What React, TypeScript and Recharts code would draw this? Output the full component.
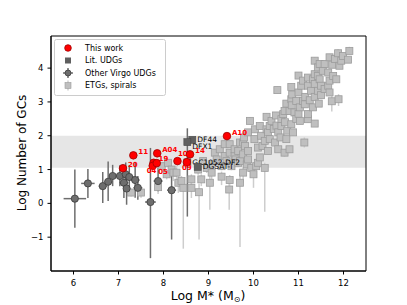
import { ScatterChart, Scatter, XAxis, YAxis, ErrorBar, ReferenceArea, Legend, Label } from 'recharts'

const FONT = 'DejaVu Sans'

const xTicks = [6, 7, 8, 9, 10, 11, 12]
const yTicks = [-1, 0, 1, 2, 3, 4]
const xDomain = [5.5, 12.5]
const yDomain = [-2, 4.95]
const band = [1.05, 2]

// this work (red)
const thisWorkNames = ['A10', '11', '20', 'A04', '19', '04', '05', '10', '14', '09']
const thisWorkMass = [9.41, 7.33, 7.1, 7.86, 7.78, 7.76, 7.85, 8.31, 8.59, 8.52]
const thisWorkGC = [1.99, 1.42, 1.04, 1.48, 1.2, 1.11, 1.19, 1.25, 1.45, 1.22]

// literature UDGs
const litNames = ['DF44', 'DFX1', 'GC1052-DF2', 'DGSAT-I']
const litMass = [8.64, 8.53, 8.53, 8.76]
const litGC = [1.88, 1.81, 1.21, 1.08]
const litErrLow = [0, 2.2, 0, 0]
const litErrHigh = [0, 0.41, 0, 0]

// other Virgo UDGs
const virgoMass = [6.03, 6.32, 6.65, 6.77, 6.87, 7.03, 7.16, 7.24, 7.12, 7.18, 7.37, 7.43, 7.71, 7.88, 8.18]
const virgoGC = [0.14, 0.59, 0.51, 0.64, 0.81, 0.81, 0.86, 0.78, 0.61, 0.44, 0.69, 0.46, 0.04, 0.66, 0.39]
const virgoMassErr = [0.25, 0.15, 0.09, 0.08, 0.08, 0.08, 0.07, 0.1, 0.1, 0.08, 0.1, 0.1, 0.12, 0.1, 0.1]
const virgoErrLow = [0.86, 0.43, 0.5, 0.57, 0.3, 0.3, 0.35, 0.35, 0.45, 0.48, 0.52, 0.35, 1.66, 0.3, 1.46]
const virgoErrHigh = [0.86, 0.43, 0.42, 0.6, 0.33, 0.32, 0.35, 0.35, 0.45, 0.45, 0.52, 0.35, 1.6, 0.4, 0.42]

// ETGs, spirals: [log M*, log N_GC, err down, err up]
const etgs: [number, number, number, number][] = [
    [7.28, 0.32, 0.12, 0.12], [7.5, 0.32, 0.15, 0.12], [7.88, 0.48, 0.2, 0.15], [8.07, 0.86, 0.15, 0.12],
    [7.96, 1.1, 0.12, 0.1], [8.1, 1.2, 0.12, 0.1], [8.18, 1.0, 0.2, 0.12], [8.22, 0.91, 0.25, 0.15],
    [8.29, 0.91, 0.3, 0.2], [8.33, 0.61, 0.3, 0.2], [8.4, 0.66, 0.25, 0.15], [8.44, 0.46, 1.8, 0.25],
    [8.62, 0.46, 0.3, 0.2], [8.62, 0.71, 0.2, 0.15], [8.84, 0.71, 0.2, 0.15], [8.79, 0.33, 1.4, 0.25],
    [8.77, 1.0, 0.15, 0.1], [8.88, 1.25, 0.12, 0.1], [8.96, 1.05, 0.15, 0.1], [9.03, 0.61, 0.8, 0.2],
    [9.07, 0.91, 0.2, 0.15], [9.07, 1.16, 0.12, 0.1], [9.14, 1.5, 0.1, 0.1], [9.18, 1.3, 0.12, 0.1],
    [9.25, 1.6, 0.1, 0.1], [9.29, 1.1, 0.12, 0.1], [9.29, 0.79, 0.25, 0.15], [9.36, 1.4, 0.1, 0.1],
    [9.36, 1.75, 0.1, 0.1], [9.4, 1.25, 0.12, 0.1], [9.46, 0.41, 0.6, 0.2], [9.47, 0.69, 0.25, 0.15],
    [9.47, 1.5, 0.1, 0.1], [9.47, 1.75, 0.1, 0.1], [9.51, 1.1, 0.12, 0.1], [9.58, 1.4, 0.1, 0.1],
    [9.58, 1.6, 0.1, 0.1], [9.6, 1.3, 0.1, 0.1], [9.66, 1.2, 0.12, 0.1], [9.66, 1.55, 0.1, 0.1],
    [9.7, 0.61, 1.9, 0.25], [9.7, 1.25, 0.12, 0.1], [9.7, 1.8, 0.1, 0.1], [9.77, 0.91, 0.3, 0.15],
    [9.77, 1.45, 0.1, 0.1], [9.77, 1.8, 0.1, 0.1], [9.79, 1.95, 0.1, 0.1], [9.81, 1.7, 0.1, 0.1],
    [9.85, 1.15, 0.12, 0.1], [9.88, 1.3, 0.1, 0.1], [9.88, 1.55, 0.1, 0.1], [9.88, 2.1, 0.1, 0.1],
    [9.92, 2.44, 0.1, 0.1], [9.95, 1.05, 0.15, 0.1], [10.0, 0.86, 0.4, 0.15], [10.02, 1.9, 0.1, 0.1],
    [10.03, 2.19, 0.1, 0.1], [10.06, 1.1, 0.2, 0.1], [10.1, 1.65, 0.1, 0.1], [10.1, 1.2, 0.12, 0.1],
    [10.14, 1.36, 0.1, 0.1], [10.14, 2.29, 0.1, 0.1], [10.17, 2.0, 0.1, 0.1], [10.2, 1.7, 0.1, 0.1],
    [10.25, 1.05, 1.3, 0.15], [10.25, 1.85, 0.1, 0.1], [10.29, 2.19, 0.1, 0.1], [10.29, 2.56, 0.1, 0.1],
    [10.32, 1.55, 0.1, 0.1], [10.32, 2.1, 0.1, 0.1], [10.36, 1.9, 0.1, 0.1], [10.36, 2.29, 0.1, 0.1],
    [10.4, 2.44, 0.1, 0.1], [10.45, 2.2, 0.1, 0.1], [10.48, 1.8, 0.1, 0.1], [10.5, 2.6, 0.1, 0.1],
    [10.51, 2.3, 0.1, 0.1], [10.53, 3.35, 0.1, 0.1], [10.55, 2.1, 0.1, 0.1], [10.55, 1.6, 0.1, 0.1],
    [10.6, 1.95, 0.1, 0.1], [10.62, 2.49, 0.1, 0.1], [10.62, 2.29, 0.1, 0.1], [10.66, 2.64, 0.1, 0.1],
    [10.69, 1.5, 0.12, 0.1], [10.69, 2.73, 0.1, 0.1], [10.7, 2.4, 0.1, 0.1], [10.73, 1.9, 0.1, 0.1],
    [10.73, 2.95, 0.1, 0.1], [10.75, 2.15, 0.1, 0.1], [10.8, 1.6, 0.12, 0.1], [10.8, 2.73, 0.1, 0.1],
    [10.84, 2.34, 0.1, 0.1], [10.84, 3.08, 0.1, 0.1], [10.86, 3.22, 0.1, 0.1], [10.84, 3.44, 0.1, 0.1],
    [10.85, 2.9, 0.1, 0.1], [10.88, 2.1, 0.1, 0.1], [10.91, 2.69, 0.1, 0.1], [10.95, 2.5, 0.1, 0.1],
    [10.95, 3.03, 0.1, 0.1], [11.0, 3.28, 0.1, 0.1], [11.0, 3.78, 0.1, 0.1], [11.0, 2.65, 0.1, 0.1],
    [11.03, 2.44, 0.1, 0.1], [11.03, 2.84, 0.1, 0.1], [11.06, 3.48, 0.1, 0.1], [11.1, 3.03, 0.1, 0.1],
    [11.1, 3.63, 0.1, 0.1], [11.13, 1.8, 0.15, 0.15], [11.14, 2.93, 0.1, 0.1], [11.15, 3.15, 0.1, 0.1],
    [11.21, 2.49, 0.1, 0.1], [11.21, 2.64, 0.1, 0.1], [11.21, 3.48, 0.1, 0.1], [11.21, 3.72, 0.1, 0.1],
    [11.25, 3.05, 0.1, 0.1], [11.28, 3.33, 0.1, 0.1], [11.32, 2.84, 0.1, 0.1], [11.32, 3.67, 0.1, 0.1],
    [11.36, 2.36, 0.1, 0.1], [11.36, 3.15, 0.1, 0.1], [11.36, 3.53, 0.1, 0.1], [11.36, 3.82, 0.1, 0.1],
    [11.36, 4.22, 0.1, 0.1], [11.43, 3.33, 0.1, 0.1], [11.43, 3.77, 0.1, 0.1], [11.43, 4.02, 0.1, 0.1],
    [11.45, 2.95, 0.1, 0.1], [11.47, 3.67, 0.1, 0.1], [11.47, 4.12, 0.1, 0.1], [11.5, 3.48, 0.1, 0.1],
    [11.5, 3.2, 0.1, 0.1], [11.54, 3.92, 0.1, 0.1], [11.58, 3.38, 0.1, 0.1], [11.58, 4.12, 0.1, 0.1],
    [11.66, 3.48, 0.1, 0.1], [11.66, 3.87, 0.1, 0.1], [11.69, 3.28, 0.1, 0.1], [11.69, 3.63, 0.1, 0.1],
    [11.69, 4.32, 0.1, 0.1], [11.74, 3.02, 0.3, 0.15], [11.75, 4.1, 0.1, 0.1], [11.77, 3.77, 0.1, 0.1],
    [11.81, 4.27, 0.1, 0.1], [11.84, 3.67, 0.1, 0.1], [11.88, 4.44, 0.1, 0.12], [11.89, 3.08, 0.2, 0.15],
    [11.91, 4.07, 0.1, 0.1], [11.95, 4.22, 0.1, 0.1], [11.99, 4.36, 0.1, 0.1], [12.1, 4.25, 0.1, 0.1],
    [12.13, 4.51, 0.1, 0.12],
]

// label offsets in px (text anchor relative to the marker)
const redLabelOffset: Record<string, [number, number]> = {
    A10: [5, -3.5], '11': [5, -3.5], '20': [5, -3.5], A04: [5, -3.5], '19': [5, -3.5],
    '04': [-6, 5.5], '05': [1.5, 8.5], '10': [0.5, -7], '14': [5, -3], '09': [-5, 5.5],
}
const litLabelOffset: Record<string, [number, number]> = {
    DF44: [5, 0], DFX1: [5, 4], 'GC1052-DF2': [5, 0], 'DGSAT-I': [5, 0],
}

const redData = thisWorkNames.map((name, i) => ({ name, x: thisWorkMass[i], y: thisWorkGC[i] }))
const litData = litNames.map((name, i) => ({ name, x: litMass[i], y: litGC[i], yErr: [litErrLow[i], litErrHigh[i]] }))
const virgoData = virgoMass.map((x, i) => ({ x, y: virgoGC[i], xErr: virgoMassErr[i], yErr: [virgoErrLow[i], virgoErrHigh[i]] }))
const etgData = etgs.map(([x, y, lo, hi]) => ({ x, y, yErr: [lo, hi] }))

// error bars are drawn by a marker-less series so they sit beneath the symbols
const NoMarker = () => null

function EtgSquare(props: any) {
    const { cx, cy } = props
    if (cx == null || cy == null) return null
    return <rect x={cx - 3.5} y={cy - 3.5} width={7} height={7} fill="#bfbfbf" stroke="#9c9c9c" strokeWidth={0.8} />
}

function VirgoDot(props: any) {
    const { cx, cy } = props
    if (cx == null || cy == null) return null
    return <circle cx={cx} cy={cy} r={3.6} fill="#6e6e6e" stroke="#3c3c3c" strokeWidth={0.8} />
}

function LitSquare(props: any) {
    const { cx, cy, payload } = props
    if (cx == null || cy == null) return null
    const [dx, dy] = litLabelOffset[payload.name] ?? [5, 0]
    return (
        <g>
            <rect x={cx - 3.5} y={cy - 3.5} width={7} height={7} fill="#5f5f5f" stroke="#4a4a4a" strokeWidth={0.6} />
            <text x={cx + dx} y={cy + dy} fontSize={7.5} fontFamily={FONT} fill="#000" dominantBaseline="central">{payload.name}</text>
        </g>
    )
}

function RedDot(props: any) {
    const { cx, cy, payload } = props
    if (cx == null || cy == null) return null
    const [dx, dy] = redLabelOffset[payload.name] ?? [5, -3.5]
    return (
        <g>
            <circle cx={cx} cy={cy} r={3.8} fill="#ff0000" stroke="#a00000" strokeWidth={0.8} />
            <text x={cx + dx} y={cy + dy} fontSize={7} fontWeight="bold" fontFamily={FONT} fill="#ff0000" dominantBaseline="central">{payload.name}</text>
        </g>
    )
}

function LegendBox() {
    const rows = [9, 21.5, 34, 46.5]
    const tx = 31
    const mx = 14
    return (
        <svg width={112} height={57} style={{ display: 'block' }}>
            <rect x={0.5} y={0.5} width={111} height={56} rx={2} fill="#fff" fillOpacity={0.85} stroke="#cccccc" />
            <circle cx={mx} cy={rows[0]} r={3.3} fill="#ff0000" stroke="#a00000" strokeWidth={0.8} />
            <rect x={mx - 3} y={rows[1] - 3} width={6} height={6} fill="#5f5f5f" />
            <line x1={mx - 5} x2={mx + 5} y1={rows[2]} y2={rows[2]} stroke="#6e6e6e" strokeWidth={1.5} />
            <line x1={mx} x2={mx} y1={rows[2] - 5} y2={rows[2] + 5} stroke="#6e6e6e" strokeWidth={1.5} />
            <circle cx={mx} cy={rows[2]} r={3} fill="#6e6e6e" stroke="#3c3c3c" strokeWidth={0.8} />
            <line x1={mx} x2={mx} y1={rows[3] - 5} y2={rows[3] + 5} stroke="#cfcfcf" strokeWidth={1.5} />
            <rect x={mx - 3} y={rows[3] - 3} width={6} height={6} fill="#bfbfbf" stroke="#9c9c9c" strokeWidth={0.6} />
            {['This work', 'Lit. UDGs', 'Other Virgo UDGs', 'ETGs, spirals'].map((t, i) => (
                <text key={t} x={tx} y={rows[i]} fontSize={8} fontFamily={FONT} fill="#000" dominantBaseline="central">{t}</text>
            ))}
        </svg>
    )
}

const fmt = (v: number) => (v < 0 ? '\u2212' + Math.abs(v) : String(v))

export default function App() {
    return (
        <div style={{ position: 'absolute', left: 0, top: 0, background: '#fff' }}>
            <ScatterChart width={407} height={305} margin={{ top: 36, right: 41, bottom: 0, left: 0 }}>
                <XAxis
                    type="number"
                    dataKey="x"
                    domain={xDomain}
                    ticks={xTicks}
                    allowDataOverflow
                    height={34}
                    tickSize={3.5}
                    tickMargin={5}
                    stroke="#000"
                    tick={{ fontSize: 8.5, fontFamily: FONT, fill: '#000' }}
                >
                    <Label
                        content={() => (
                            <text x={208} y={300} textAnchor="middle" fontSize={12.5} fontFamily={FONT} fill="#000">
                                Log M* (M<tspan fontSize={8} dy={2}>⊙</tspan><tspan dy={-2}>)</tspan>
                            </text>
                        )}
                    />
                </XAxis>
                <YAxis
                    type="number"
                    dataKey="y"
                    domain={yDomain}
                    ticks={yTicks}
                    allowDataOverflow
                    width={51}
                    tickSize={3.5}
                    tickMargin={4}
                    stroke="#000"
                    tickFormatter={fmt}
                    tick={{ fontSize: 8.5, fontFamily: FONT, fill: '#000' }}
                >
                    <Label
                        content={() => (
                            <text transform="translate(26,153) rotate(-90)" textAnchor="middle" fontSize={12} fontFamily={FONT} fill="#000">
                                Log Number of GCs
                            </text>
                        )}
                    />
                </YAxis>
                <ReferenceArea x1={xDomain[0]} x2={xDomain[1]} y1={band[0]} y2={band[1]} fill="#e6e6e6" fillOpacity={1} stroke="none" />
                <Scatter data={etgData} shape={NoMarker} isAnimationActive={false} legendType="none">
                    <ErrorBar dataKey="yErr" direction="y" width={0} stroke="#cdcdcd" strokeWidth={1.5} isAnimationActive={false} />
                </Scatter>
                <Scatter data={etgData} shape={EtgSquare} isAnimationActive={false} />
                <Scatter data={virgoData} shape={NoMarker} isAnimationActive={false} legendType="none">
                    <ErrorBar dataKey="yErr" direction="y" width={0} stroke="#6e6e6e" strokeWidth={1.5} isAnimationActive={false} />
                    <ErrorBar dataKey="xErr" direction="x" width={0} stroke="#6e6e6e" strokeWidth={1.5} isAnimationActive={false} />
                </Scatter>
                <Scatter data={virgoData} shape={VirgoDot} isAnimationActive={false} />
                <Scatter data={litData} shape={NoMarker} isAnimationActive={false} legendType="none">
                    <ErrorBar dataKey="yErr" direction="y" width={0} stroke="#6e6e6e" strokeWidth={1.5} isAnimationActive={false} />
                </Scatter>
                <Scatter data={litData} shape={LitSquare} isAnimationActive={false} />
                <Scatter data={redData} shape={RedDot} isAnimationActive={false} />
                <ReferenceArea x1={xDomain[0]} x2={xDomain[1]} y1={yDomain[0]} y2={yDomain[1]} fill="none" stroke="#000" strokeWidth={1} />
                <Legend
                    layout="vertical"
                    align="center"
                    verticalAlign="middle"
                    wrapperStyle={{ left: 54, top: 39, width: 112, height: 57 }}
                    content={() => <LegendBox />}
                />
            </ScatterChart>
        </div>
    )
}
